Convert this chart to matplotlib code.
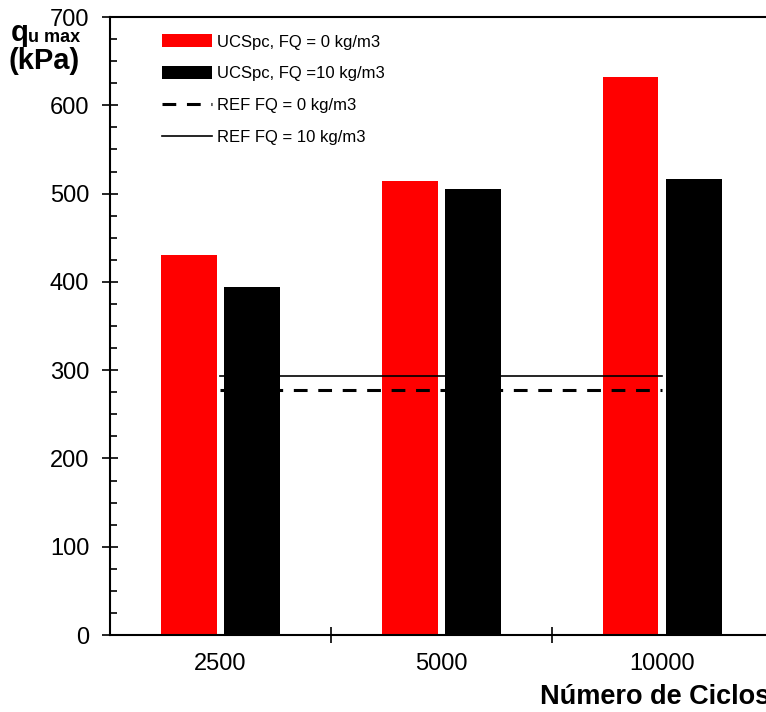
import matplotlib
matplotlib.use("Agg")
import matplotlib.pyplot as plt
from matplotlib.ticker import MultipleLocator
from matplotlib.lines import Line2D
from matplotlib.patches import Patch

categories = ["2500", "5000", "10000"]
ucs_fq0 = [430, 514, 632]
ucs_fq10 = [394, 505, 517]
ref_fq0 = 277
ref_fq10 = 293

plt.rcParams['font.family'] = ['Liberation Sans', 'DejaVu Sans']

fig = plt.figure(figsize=(7.66, 7.12), dpi=100)
ax = fig.add_axes([0.1436, 0.1081, 0.8655, 0.868])

x = list(range(len(categories)))
w = 0.25
off = 0.143
ax.bar([i - off for i in x], ucs_fq0, width=w, color="#ff0000", label="UCSpc, FQ = 0 kg/m3")
ax.bar([i + off for i in x], ucs_fq10, width=w, color="#000000", label="UCSpc, FQ =10 kg/m3")
ax.plot([x[0], x[-1]], [ref_fq0, ref_fq0], color="black", lw=2.2, ls=(0, (4.5, 3.5)))
ax.plot([x[0], x[-1]], [ref_fq10, ref_fq10], color="black", lw=1.2)

ax.set_xlim(-0.5, 2.5)
ax.set_ylim(0, 700)
ax.yaxis.set_major_locator(MultipleLocator(100))
ax.yaxis.set_minor_locator(MultipleLocator(25))
ax.set_xticks([0.5, 1.5])
ax.set_xticks(x, minor=True)
ax.set_xticklabels([])
ax.set_xticklabels(categories, minor=True)
ax.tick_params(axis='x', which='major', direction='inout', length=12, width=1.2)
ax.tick_params(axis='x', which='minor', length=0, pad=13, labelsize=17)
ax.tick_params(axis='y', which='major', direction='inout', length=12, width=1.2, labelsize=17, pad=9)
ax.tick_params(axis='y', which='minor', direction='in', length=5, width=1.2)
for s in ['left', 'bottom', 'top']:
    ax.spines[s].set_linewidth(1.5)
ax.spines['right'].set_visible(False)

handles = [
    Patch(facecolor="#ff0000", label="UCSpc, FQ = 0 kg/m3"),
    Patch(facecolor="#000000", label="UCSpc, FQ =10 kg/m3"),
    Line2D([0], [0], color="black", lw=2.2, ls=(0, (4.5, 3.5)), label="REF FQ = 0 kg/m3"),
    Line2D([0], [0], color="black", lw=1.2, label="REF FQ = 10 kg/m3"),
]
leg = ax.legend(handles=handles, loc='upper left', bbox_to_anchor=(0.056, 0.996),
                frameon=False, fontsize=12, handlelength=3.0, handleheight=0.8,
                handletextpad=0.3, labelspacing=1.0)

fig.text(0.014, 0.953, "q", fontsize=21, fontweight='bold', ha='left', va='center')
fig.text(0.036, 0.947, "u max", fontsize=13, fontweight='bold', ha='left', va='center')
fig.text(0.011, 0.915, "(kPa)", fontsize=21, fontweight='bold', ha='left', va='center')
fig.text(0.705, 0.021, "Número de Ciclos", fontsize=19.5, fontweight='bold', ha='left', va='center')

fig.savefig("out.png", dpi=100)
